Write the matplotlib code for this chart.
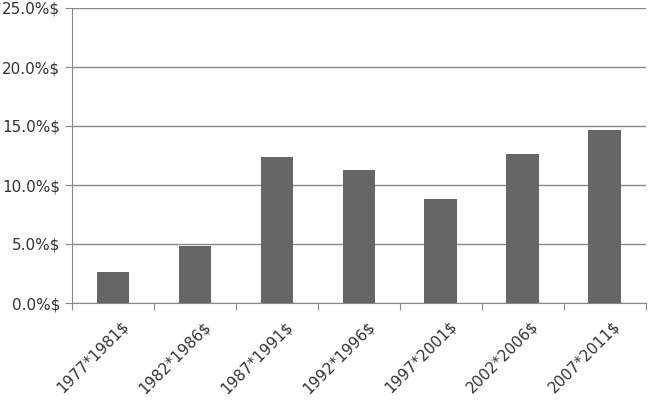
import numpy as np
import matplotlib
matplotlib.use("Agg")
import matplotlib.pyplot as plt
from matplotlib.transforms import ScaledTranslation

# --- dados ---
periodos = ["1977*1981$", "1982*1986$", "1987*1991$", "1992*1996$",
            "1997*2001$", "2002*2006$", "2007*2011$"]
valores = [2.6, 4.8, 12.4, 11.3, 8.8, 12.6, 14.7]
yticks = [0, 5, 10, 15, 20, 25]
ytick_labels = ["0.0%$", "5.0%$", "10.0%$", "15.0%$", "20.0%$", "25.0%$"]

plt.rcParams['font.family'] = ['DejaVu Sans']

fig = plt.figure(figsize=(6.49, 4.0), dpi=100)
ax = fig.add_axes([0.111, 0.2425, 0.884, 0.7375])

x = np.arange(len(periodos))
ax.bar(x, valores, width=0.4, color='#666666', zorder=3)

ax.set_xlim(-0.5, len(periodos) - 0.5)
ax.set_ylim(0, 25)

ax.set_yticks(yticks)
ax.set_yticklabels(ytick_labels, fontsize=11, color='#333333')
ax.yaxis.grid(True, color='#888888', lw=1, zorder=0)

# ticks do eixo x nas fronteiras das categorias
ax.set_xticks(np.arange(len(periodos) + 1) - 0.5)
ax.set_xticklabels([])
ax.set_xticks(x, minor=True)
ax.set_xticklabels(periodos, minor=True, rotation=45, ha='right',
                   rotation_mode='anchor', fontsize=11, color='#333333')
ax.tick_params(axis='x', which='minor', length=0, pad=11)
ax.tick_params(axis='x', which='major', length=5, color='#888888')
ax.tick_params(axis='y', length=5, color='#888888')

# desloca os rótulos um pouco para a direita, como no original
desloc = ScaledTranslation(8 / 100, 0, fig.dpi_scale_trans)
for rotulo in ax.get_xticklabels(minor=True):
    rotulo.set_transform(rotulo.get_transform() + desloc)

for lado in ['top', 'right']:
    ax.spines[lado].set_visible(False)
for lado in ['left', 'bottom']:
    ax.spines[lado].set_color('#888888')

fig.savefig('out.png', dpi=100)
